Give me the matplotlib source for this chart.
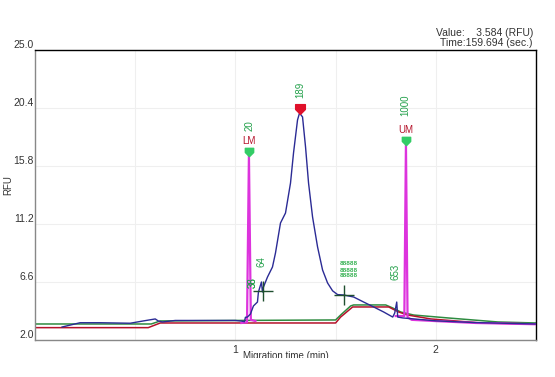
import matplotlib
matplotlib.use("Agg")
import matplotlib.pyplot as plt
import numpy as np
from matplotlib.path import Path
from matplotlib.transforms import Bbox, TransformedBbox

plt.rcParams["font.family"] = ["Liberation Sans", "DejaVu Sans"]

# ---------------------------------------------------------------------------
# Traces (time in min, signal in RFU)
# ---------------------------------------------------------------------------
sample_t = [0.135, 0.225, 0.325, 0.475, 0.54, 0.60, 0.615, 0.635, 0.70, 0.85,
            1.00, 1.03, 1.045, 1.05, 1.06, 1.075, 1.09, 1.11, 1.115, 1.13,
            1.135, 1.14, 1.16, 1.185, 1.20, 1.225, 1.25, 1.275, 1.29, 1.31,
            1.32, 1.335, 1.35, 1.365, 1.385, 1.41, 1.435, 1.46, 1.485, 1.51,
            1.54, 1.59, 1.64, 1.69, 1.74, 1.785, 1.795, 1.805, 1.81, 1.835,
            1.87, 2.0, 2.2, 2.5]
sample_rfu = [3.03, 3.37, 3.37, 3.33, 3.51, 3.67, 3.51, 3.43, 3.55, 3.55,
              3.55, 3.50, 3.45, 3.80, 3.82, 4.06, 4.70, 5.01, 5.81, 6.60,
              5.81, 6.20, 6.99, 7.79, 8.90, 11.28, 12.07, 14.45, 16.83, 19.45,
              20.00, 19.69, 17.31, 14.45, 11.76, 9.38, 7.55, 6.52, 5.90, 5.60,
              5.57, 5.41, 5.01, 4.62, 4.22, 3.82, 4.14, 5.01, 3.82, 3.75,
              3.70, 3.52, 3.38, 3.27]

baseline_g_t = [0.0, 0.58, 0.625, 1.0, 1.5, 1.525, 1.575, 1.59, 1.75, 1.785,
                1.825, 1.89, 2.06, 2.31, 2.5]
baseline_g_rfu = [3.27, 3.27, 3.51, 3.55, 3.59, 3.98, 4.70, 4.78, 4.78, 4.54,
                  4.22, 3.98, 3.75, 3.43, 3.35]

baseline_r_t = [0.0, 0.565, 0.625, 1.5, 1.525, 1.585, 1.765, 1.815, 1.86,
                1.975, 2.225, 2.5]
baseline_r_rfu = [2.98, 2.98, 3.35, 3.35, 3.82, 4.62, 4.62, 4.22, 3.98,
                  3.67, 3.35, 3.27]

ladder_t = [1.03, 1.058, 1.0675, 1.077, 1.10, np.nan,
            1.80, 1.843, 1.851, 1.859, 1.88, 2.0, 2.2, 2.5]
ladder_rfu = [3.35, 3.40, 16.7, 3.60, 3.50, np.nan,
              3.90, 3.90, 17.6, 3.80, 3.60, 3.50, 3.35, 3.25]

# peak annotations: (time, rfu, text)
peak_labels = [(1.07, 19.0, "20"), (1.325, 21.83, "189"), (1.13, 8.19, "64"),
               (1.085, 6.52, "38"), (1.085, 6.52, "36"), (1.80, 7.39, "653"),
               (1.85, 20.64, "1000")]
marker_labels = [(1.0675, 17.75, "LM"), (1.85, 18.66, "UM")]
green_marks_t = [1.0675, 1.85]
green_marks_rfu = [16.95, 17.8]
top_peak = (1.32, 20.35)
cross_t = [1.14, 1.54]
cross_rfu = [5.89, 5.57]
smear_t = 1.565
smear_rfu = [8.03, 7.55, 7.08]

yticks = [2.0, 6.6, 11.2, 15.8, 20.4, 25.0]

# ---------------------------------------------------------------------------
fig = plt.figure(figsize=(5.55, 3.77), dpi=100)
ax = fig.add_axes([35 / 555, 1 - 340 / 377, 501 / 555, 290 / 377])

BLUE = "#2b2b95"
GREEN = "#2e8b40"
RED = "#b5122a"
PINK = "#dd33dd"
LABEL_GREEN = "#22a04a"

ax.plot(baseline_g_t, baseline_g_rfu, color=GREEN, lw=1.1, zorder=2)
ax.plot(baseline_r_t, baseline_r_rfu, color=RED, lw=1.1, zorder=2)
ax.plot(ladder_t, ladder_rfu, color=PINK, lw=1.6, zorder=3)
ax.plot(sample_t, sample_rfu, color=BLUE, lw=1.0, zorder=4)

# arrow-shaped markers
arrow = Path([(-1, 1), (1, 1), (1, 0), (0, -1), (-1, 0), (-1, 1)],
             [Path.MOVETO] + [Path.LINETO] * 4 + [Path.CLOSEPOLY])
ax.plot(green_marks_t, green_marks_rfu, ls="none", marker=arrow, ms=6,
        color="#33cc66", zorder=6)
ax.plot(*top_peak, ls="none", marker=arrow, ms=7, color="#e0102a", zorder=6)
ax.plot(cross_t, cross_rfu, ls="none", marker="+", ms=14, mew=1.0,
        color="#1f4f2f", zorder=6)

for t, v, s in peak_labels:
    ax.text(t, v, s, rotation=90, ha="center", va="center", fontsize=7,
            color=LABEL_GREEN, zorder=7)
for t, v, s in marker_labels:
    ax.text(t, v, s, ha="center", va="center", fontsize=7, color=RED, zorder=7)
for v in smear_rfu:
    ax.text(smear_t, v, "88888", ha="center", va="center", fontsize=4.5,
            fontweight="bold", color="#33b050", zorder=7)

ax.set_xlim(0, 2.5)
ax.set_ylim(2.0, 25.0)
ax.set_yticks(yticks)
ax.set_yticklabels([f"{y:.1f}" for y in yticks])
ax.set_xticks([1, 2])
ax.set_xticklabels(["1", "2"])
ax.set_xticks([0.5, 1.5], minor=True)
ax.tick_params(axis="both", which="both", length=0, labelsize=7.5,
               colors="#333333")
ax.tick_params(axis="y", pad=1)
for lab in ax.get_yticklabels():
    lab.set_va("bottom")
ax.grid(True, which="both", color="#efefef", lw=0.8)
ax.set_axisbelow(True)

for side in ("left", "bottom"):
    ax.spines[side].set_color("#888888")
for side in ("top", "right"):
    ax.spines[side].set_color("black")
for sp in ax.spines.values():
    sp.set_linewidth(1.0)

fig.text(8 / 555, 1 - 185 / 377, "RFU", rotation=90, ha="center",
         va="center", fontsize=7, color="#333333")
xl = fig.text(286 / 555, 1 - 356 / 377, "Migration time (min)", ha="center",
              va="center", fontsize=7, color="#333333")
xl.set_clip_box(TransformedBbox(Bbox([[0, 1 - 358 / 377], [1, 1]]),
                                fig.transFigure))
xl.set_clip_on(True)

fig.text(533 / 555, 1 - 33 / 377, "Value:    3.584 (RFU)", ha="right",
         va="center", fontsize=7.5, color="#333333")
fig.text(533 / 555, 1 - 43 / 377, "Time:159.694 (sec.)", ha="right",
         va="center", fontsize=7.5, color="#333333")

fig.savefig("out.png", dpi=100)
